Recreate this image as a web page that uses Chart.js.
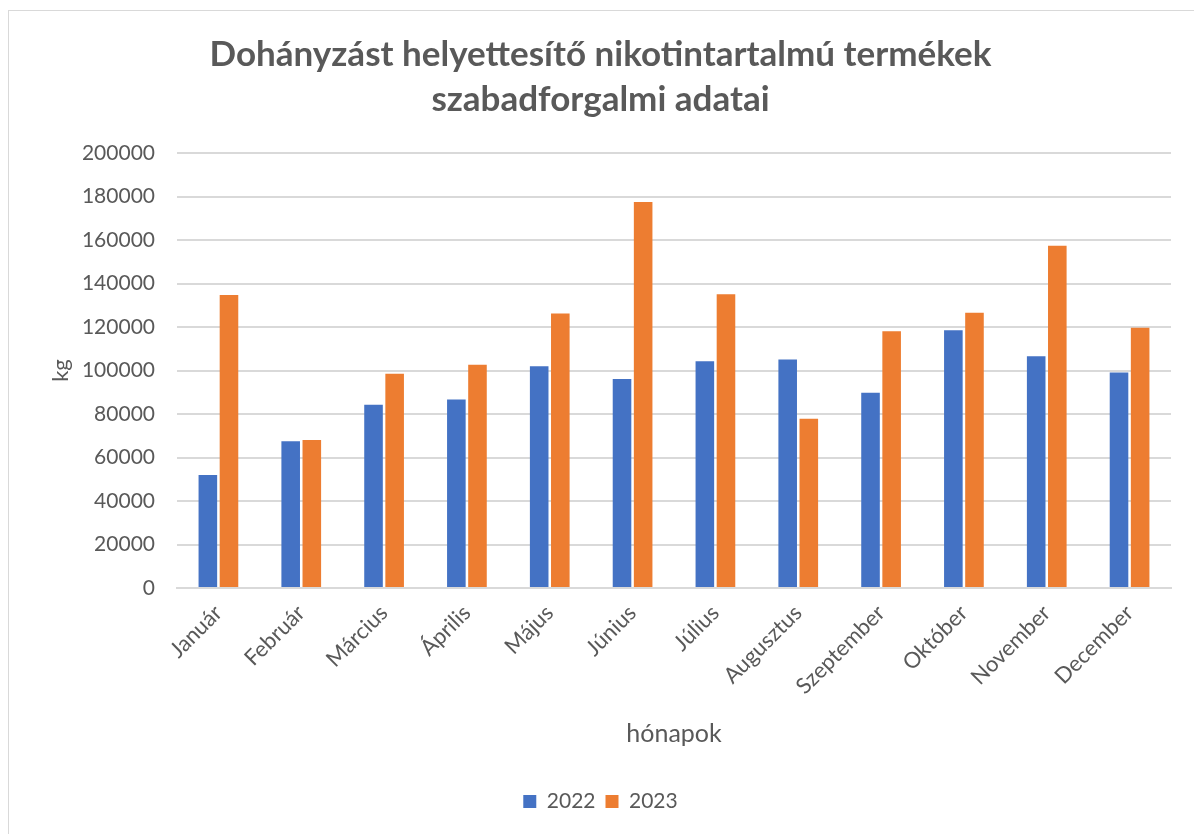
<!DOCTYPE html>
<html>
<head>
<meta charset="utf-8">
<script src="https://cdn.jsdelivr.net/npm/chart.js@4.4.1/dist/chart.umd.min.js"></script>
<style>
  body { margin: 0; background: #fff; }
  #frame { position: absolute; left: 8px; top: 10px; width: 1190px; height: 830px; border: 1px solid #d9d9d9; pointer-events: none; }
  #wrap { position: absolute; left: 0; top: 0; width: 1194px; height: 834px; }
</style>
</head>
<body>
<div id="wrap"><canvas id="nikotin"></canvas></div>
<div id="frame"></div>
<script>
// data
const months = ['Január', 'Február', 'Március', 'Április', 'Május', 'Június', 'Július', 'Augusztus', 'Szeptember', 'Október', 'November', 'December'];
const data2022 = [52000, 67500, 84300, 86700, 102000, 96100, 104300, 105100, 89800, 118500, 106500, 99100];
const data2023 = [134700, 68000, 98500, 102600, 126200, 177500, 135100, 77800, 118000, 126500, 157300, 119700];
const yTicks = [0, 20000, 40000, 60000, 80000, 100000, 120000, 140000, 160000, 180000, 200000];

const grey = '#595959';
Chart.defaults.font.family = 'Lato, "Open Sans", sans-serif';
Chart.defaults.color = grey;

const ctx = document.getElementById('nikotin').getContext('2d');
new Chart(ctx, {
  type: 'bar',
  data: {
    labels: months,
    datasets: [
      {
        label: '2022',
        data: data2022,
        backgroundColor: '#4472C4',
        barPercentage: 0.88,
        categoryPercentage: 0.51
      },
      {
        label: '2023',
        data: data2023,
        backgroundColor: '#ED7D31',
        barPercentage: 0.88,
        categoryPercentage: 0.51
      }
    ]
  },
  options: {
    responsive: true,
    maintainAspectRatio: false,
    animation: false,
    layout: { padding: { left: 30, right: 23, top: 0, bottom: 12 } },
    plugins: {
      title: {
        display: true,
        text: ['Dohányzást helyettesítő nikotintartalmú termékek', 'szabadforgalmi adatai'],
        color: grey,
        font: { size: 35, weight: 'bold', lineHeight: 45 / 35 },
        padding: { top: 32, bottom: 31 }
      },
      legend: {
        position: 'bottom',
        labels: {
          boxWidth: 13,
          boxHeight: 13,
          padding: 10,
          color: grey,
          font: { size: 21 }
        }
      },
      tooltip: { enabled: false }
    },
    scales: {
      x: {
        grid: { display: false },
        border: { color: '#d9d9d9', width: 2 },
        ticks: {
          minRotation: 45,
          maxRotation: 45,
          color: grey,
          font: { size: 22 },
          padding: 4
        },
        title: {
          display: true,
          text: 'hónapok',
          color: grey,
          font: { size: 25 },
          padding: { top: 0, bottom: 32 }
        },
        afterFit: function(scale) { scale.height = 193; }
      },
      y: {
        min: 0,
        max: 200000,
        afterBuildTicks: function(scale) {
          scale.ticks = yTicks.map(v => ({ value: v }));
        },
        grid: { color: '#d9d9d9', lineWidth: 2, drawTicks: false },
        border: { display: false },
        ticks: {
          color: grey,
          font: { size: 21 },
          padding: 22,
          callback: function(value) { return String(value); }
        },
        title: {
          display: true,
          text: 'kg',
          color: grey,
          font: { size: 22 },
          padding: { top: 18, bottom: 0 }
        },
        afterFit: function(scale) { scale.width = 147; }
      }
    }
  }
});
</script>
</body>
</html>
